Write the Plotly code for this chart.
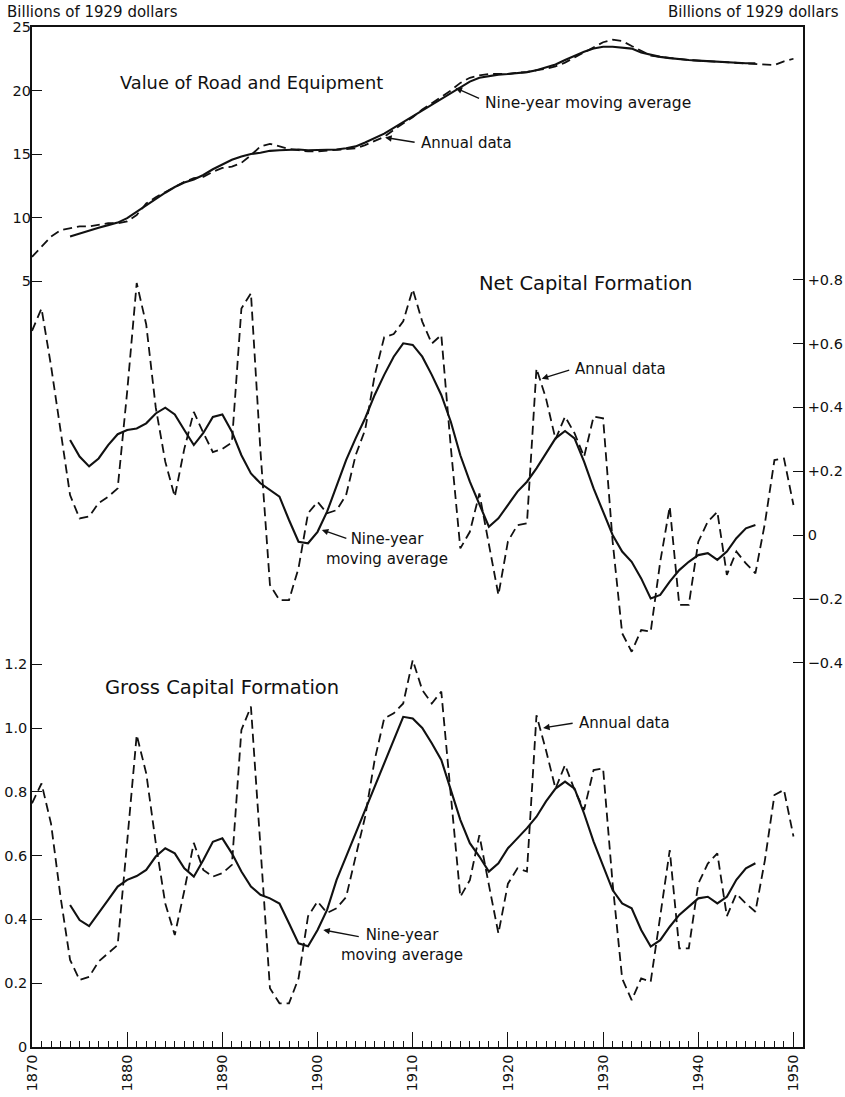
import plotly.graph_objects as go

# ---------------- data ----------------
years = list(range(1870, 1951))
ma_years = list(range(1874, 1947))

value_annual = [
    6.9, 7.7, 8.5, 9.0, 9.15, 9.3, 9.3, 9.45, 9.55, 9.55,
    9.7, 10.2, 11.1, 11.6, 12.0, 12.4, 12.8, 13.1, 13.2, 13.6,
    13.9, 14.0, 14.3, 14.9, 15.6, 15.8, 15.6, 15.4, 15.3, 15.2,
    15.2, 15.25, 15.3, 15.35, 15.45, 15.7, 16.0, 16.35, 16.9, 17.4,
    17.9, 18.5, 19.0, 19.5, 20.0, 20.6, 21.0, 21.2, 21.3, 21.3,
    21.3, 21.4, 21.45, 21.6, 21.7, 21.9, 22.2, 22.6, 23.0, 23.4,
    23.8, 24.0, 23.9, 23.5, 23.1, 22.75, 22.65, 22.55, 22.5, 22.4,
    22.35, 22.3, 22.3, 22.25, 22.2, 22.15, 22.1, 22.0, 22.0, 22.3,
    22.5,
]
value_ma = [
    8.5, 8.75, 9.0, 9.2, 9.4, 9.6, 9.95, 10.45, 11.0, 11.5,
    11.95, 12.4, 12.75, 13.0, 13.35, 13.8, 14.2, 14.55, 14.8, 15.0,
    15.1, 15.25, 15.3, 15.35, 15.35, 15.3, 15.3, 15.3, 15.35, 15.45,
    15.6, 15.9, 16.25, 16.6, 17.05, 17.5, 17.95, 18.4, 18.85, 19.3,
    19.75, 20.2, 20.7, 21.0, 21.15, 21.25, 21.3, 21.35, 21.45, 21.6,
    21.8, 22.05, 22.4, 22.75, 23.05, 23.3, 23.45, 23.45, 23.4, 23.3,
    23.0, 22.8, 22.65, 22.55, 22.45, 22.4, 22.35, 22.3, 22.25, 22.2,
    22.2, 22.15, 22.15,
]
net_annual = [
    0.64, 0.71, 0.53, 0.32, 0.125, 0.052, 0.058, 0.10, 0.12, 0.146,
    0.45, 0.79, 0.66, 0.40, 0.23, 0.12, 0.27, 0.386, 0.32, 0.26,
    0.27, 0.29, 0.71, 0.758, 0.264, -0.157, -0.204, -0.204, -0.104, 0.068,
    0.104, 0.068, 0.078, 0.125, 0.25, 0.33, 0.50, 0.62, 0.63, 0.67,
    0.77, 0.669, 0.60, 0.627, 0.275, -0.042, 0.01, 0.13, -0.03, -0.188,
    -0.02, 0.031, 0.037, 0.522, 0.428, 0.30, 0.371, 0.319, 0.245, 0.371,
    0.366, -0.02, -0.308, -0.366, -0.298, -0.303, -0.084, 0.089, -0.219, -0.219,
    -0.021, 0.042, 0.073, -0.125, -0.052, -0.089, -0.12, 0.037, 0.235, 0.24,
    0.094,
]
net_ma = [
    0.298, 0.246, 0.215, 0.24, 0.282, 0.316, 0.329, 0.334, 0.35, 0.381,
    0.399, 0.378, 0.329, 0.282, 0.32, 0.37, 0.378, 0.324, 0.25, 0.193,
    0.162, 0.141, 0.12, 0.047, -0.021, -0.026, 0.01, 0.073, 0.157, 0.235,
    0.303, 0.366, 0.439, 0.502, 0.559, 0.601, 0.596,
    0.559, 0.502, 0.439, 0.355, 0.25, 0.167, 0.094, 0.026, 0.052, 0.094,
    0.136, 0.167, 0.209, 0.256, 0.303, 0.326, 0.303, 0.23, 0.146, 0.073,
    0.0, -0.052, -0.084, -0.136, -0.199, -0.188, -0.146, -0.11, -0.084, -0.063,
    -0.057, -0.078, -0.052, -0.01, 0.021, 0.031,
]
gross_annual = [
    0.764, 0.826, 0.70, 0.47, 0.273, 0.21, 0.22, 0.268, 0.294, 0.32,
    0.644, 0.978, 0.858, 0.64, 0.45, 0.351, 0.49, 0.64, 0.555, 0.534,
    0.545, 0.571, 0.994, 1.067, 0.628, 0.184, 0.137, 0.137, 0.215, 0.41,
    0.456, 0.42, 0.435, 0.47, 0.597, 0.722, 0.90, 1.03, 1.046, 1.077,
    1.213, 1.119, 1.077, 1.114, 0.79, 0.471, 0.523, 0.664, 0.508, 0.356,
    0.512, 0.56, 0.55, 1.04, 0.93, 0.81, 0.884, 0.806, 0.743, 0.868,
    0.873, 0.512, 0.215, 0.147, 0.215, 0.205, 0.41, 0.617, 0.309, 0.309,
    0.512, 0.575, 0.607, 0.41, 0.48, 0.45, 0.424, 0.586, 0.79, 0.806,
    0.66,
]
gross_ma = [
    0.445, 0.398, 0.379, 0.419, 0.461, 0.503, 0.524, 0.536, 0.555, 0.597,
    0.623, 0.607, 0.56, 0.534, 0.586, 0.643, 0.654, 0.607, 0.55, 0.503,
    0.477, 0.466, 0.45, 0.388, 0.325, 0.316, 0.367, 0.43, 0.524, 0.597,
    0.67, 0.743, 0.816, 0.89, 0.96, 1.035, 1.03,
    1.0, 0.952, 0.9, 0.806, 0.712, 0.639, 0.597, 0.55, 0.576, 0.623,
    0.654, 0.686, 0.722, 0.77, 0.81, 0.832, 0.81, 0.732, 0.644, 0.565,
    0.492, 0.45, 0.435, 0.367, 0.315, 0.335, 0.377, 0.414, 0.44, 0.466,
    0.471, 0.45, 0.471, 0.524, 0.56, 0.576,
]

gross_ticks = [0, 0.2, 0.4, 0.6, 0.8, 1.0, 1.2]
gross_ticktext = ["0", "0.2", "0.4", "0.6", "0.8", "1.0", "1.2"]
value_ticks = [5, 10, 15, 20, 25]
net_ticks = [-0.4, -0.2, 0, 0.2, 0.4, 0.6, 0.8]
net_ticktext = ["\u22120.4", "\u22120.2", "0", "+0.2", "+0.4", "+0.6", "+0.8"]

# ---------------- layout geometry ----------------
W, H = 845, 1097
PLOT_LEFT, PLOT_RIGHT, PLOT_TOP, PLOT_BOTTOM = 32, 803, 27, 1047
L, T = PLOT_LEFT, PLOT_TOP
R, B = W - PLOT_RIGHT, H - PLOT_BOTTOM
PLOT_W = PLOT_RIGHT - PLOT_LEFT
PLOT_H = PLOT_BOTTOM - PLOT_TOP

FONT = "DejaVu Sans"
BLACK = "#111111"
DASH = "9px,5px"


def pxx(x):
    return (x - PLOT_LEFT) / PLOT_W


def pxy(y):
    return (PLOT_BOTTOM - y) / PLOT_H


gross_ppu = 319.0
value_ppu = 12.7
net_zero_px = 535

gross_range = [0, PLOT_H / gross_ppu]
value_range = [25 - PLOT_H / value_ppu, 25]
net_range = [-(PLOT_BOTTOM - net_zero_px) / gross_ppu, (net_zero_px - PLOT_TOP) / gross_ppu]

fig = go.Figure()

dash_line = dict(color=BLACK, width=1.8, dash=DASH)
solid_line = dict(color=BLACK, width=2.1)

fig.add_trace(go.Scatter(x=years, y=value_annual, yaxis="y2", mode="lines", line=dash_line, name="Value annual"))
fig.add_trace(go.Scatter(x=ma_years, y=value_ma, yaxis="y2", mode="lines", line=solid_line, name="Value MA"))
fig.add_trace(go.Scatter(x=years, y=net_annual, yaxis="y3", mode="lines", line=dash_line, name="Net annual"))
fig.add_trace(go.Scatter(x=ma_years, y=net_ma, yaxis="y3", mode="lines", line=solid_line, name="Net MA"))
fig.add_trace(go.Scatter(x=years, y=gross_annual, yaxis="y", mode="lines", line=dash_line, name="Gross annual"))
fig.add_trace(go.Scatter(x=ma_years, y=gross_ma, yaxis="y", mode="lines", line=solid_line, name="Gross MA"))

axis_common = dict(showgrid=False, zeroline=False, linecolor=BLACK, tickcolor=BLACK,
                   tickfont=dict(family=FONT, size=14.5, color=BLACK), automargin=False)

fig.update_layout(
    width=W, height=H,
    margin=dict(l=L, r=R, t=T, b=B, pad=0),
    paper_bgcolor="white", plot_bgcolor="white",
    showlegend=False,
    font=dict(family=FONT, color=BLACK),
    xaxis=dict(
        range=[1870, 1951], tickmode="linear", tick0=1870, dtick=10,
        ticks="inside", ticklen=15, tickwidth=1.3, tickangle=-90,
        showline=True, linewidth=1.6, mirror=True,
        minor=dict(ticks="inside", tick0=1870, dtick=1, ticklen=6, tickwidth=1, tickcolor=BLACK),
        **axis_common,
    ),
    xaxis2=dict(
        range=[1870, 1951], overlaying="x", anchor="y", side="bottom",
        tickmode="linear", tick0=1875, dtick=10, ticks="inside", ticklen=11, tickwidth=1.1,
        showticklabels=False, showline=False, **axis_common,
    ),
    yaxis=dict(
        range=gross_range, tickmode="array", tickvals=gross_ticks, ticktext=gross_ticktext,
        ticks="inside", ticklen=10, tickwidth=1.3, showline=True, linewidth=1.6,
        **axis_common,
    ),
    yaxis2=dict(
        range=value_range, overlaying="y", side="left", anchor="x",
        tickmode="array", tickvals=value_ticks, ticks="inside", ticklen=10, tickwidth=1.3,
        showline=False, **axis_common,
    ),
    yaxis3=dict(
        range=net_range, overlaying="y", side="right", anchor="x",
        tickmode="array", tickvals=net_ticks, ticktext=net_ticktext,
        ticks="inside", ticklen=10, tickwidth=1.3, showline=True, linewidth=1.6,
        **axis_common,
    ),
)

unit_font = dict(family=FONT, size=15, color=BLACK)
label_font = dict(family=FONT, size=15, color=BLACK)
label_font_long = dict(family=FONT, size=15.5, color=BLACK)
title_font = dict(family=FONT, size=19.5, color=BLACK)
value_title_font = dict(family=FONT, size=17.8, color=BLACK)
arrow_style = dict(showarrow=True, arrowhead=2, arrowsize=1, arrowwidth=1.3, arrowcolor=BLACK)

annotations = [
    # unit labels
    dict(text="Billions of 1929 dollars", xref="paper", yref="paper", x=pxx(5), y=pxy(12),
         xanchor="left", yanchor="middle", showarrow=False, font=unit_font),
    dict(text="Billions of 1929 dollars", xref="paper", yref="paper", x=pxx(841), y=pxy(12),
         xanchor="right", yanchor="middle", showarrow=False, font=unit_font),
    # panel titles
    dict(text="Value of Road and Equipment", xref="paper", yref="paper", x=pxx(118), y=pxy(82),
         xanchor="left", yanchor="middle", showarrow=False, font=value_title_font),
    dict(text="Net Capital Formation", xref="paper", yref="paper", x=pxx(477), y=pxy(283),
         xanchor="left", yanchor="middle", showarrow=False, font=title_font),
    dict(text="Gross Capital Formation", xref="paper", yref="paper", x=pxx(103), y=pxy(688),
         xanchor="left", yanchor="middle", showarrow=False, font=title_font),
    # value panel labels
    dict(text="Nine-year moving average", xref="paper", yref="paper", x=pxx(483), y=pxy(103),
         xanchor="left", yanchor="middle", showarrow=False, font=label_font_long),
    dict(text="", xref="x", yref="y2", x=1914.5, y=20.2, ax=25, ay=11, **arrow_style),
    dict(text="Annual data", xref="paper", yref="paper", x=pxx(419), y=pxy(143),
         xanchor="left", yanchor="middle", showarrow=False, font=label_font),
    dict(text="", xref="x", yref="y2", x=1907.1, y=16.3, ax=31, ay=5, **arrow_style),
    # net panel labels
    dict(text="Annual data", xref="paper", yref="paper", x=pxx(573), y=pxy(369),
         xanchor="left", yanchor="middle", showarrow=False, font=label_font),
    dict(text="", xref="x", yref="y3", x=1923.55, y=0.49, ax=29, ay=-9, **arrow_style),
    dict(text="Nine-year<br>moving average", xref="paper", yref="paper", x=pxx(387), y=pxy(549),
         xanchor="center", yanchor="middle", showarrow=False, align="center", font=label_font),
    dict(text="", xref="x", yref="y3", x=1900.45, y=0.016, ax=26, ay=9, **arrow_style),
    # gross panel labels
    dict(text="Annual data", xref="paper", yref="paper", x=pxx(577), y=pxy(723),
         xanchor="left", yanchor="middle", showarrow=False, font=label_font),
    dict(text="", xref="x", yref="y", x=1923.7, y=1.0, ax=31, ay=-5, **arrow_style),
    dict(text="Nine-year<br>moving average", xref="paper", yref="paper", x=pxx(402), y=pxy(945),
         xanchor="center", yanchor="middle", showarrow=False, align="center", font=label_font),
    dict(text="", xref="x", yref="y", x=1900.6, y=0.367, ax=37, ay=7, **arrow_style),
]
fig.update_layout(annotations=annotations)

# remove the default 8px page margin so the figure fills the window exactly; hide the mode bar
fig.write_html("out.html", config={"displayModeBar": False},
               post_script="document.body.style.margin='0';")
